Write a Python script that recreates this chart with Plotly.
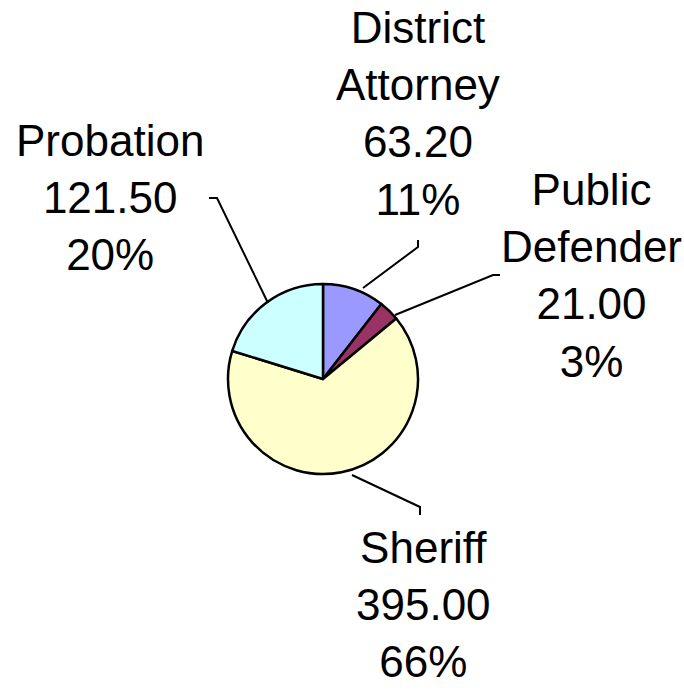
import plotly.graph_objects as go

# data
labels = ["District<br>Attorney", "Public<br>Defender", "Sheriff", "Probation"]
names = ["District Attorney", "Public Defender", "Sheriff", "Probation"]
values = [63.20, 21.00, 395.00, 121.50]
colors = ["#9999FF", "#993366", "#FFFFCC", "#CCFFFF"]

W, H = 684, 690
cx, cy, R = 323, 379, 95

def px(x):
    return x / W

def py(y):
    return 1 - y / H

total = sum(values)

fig = go.Figure(go.Pie(
    labels=names, values=values, sort=False, direction="clockwise", rotation=0,
    marker=dict(colors=colors, line=dict(color="black", width=2.5)),
    textinfo="none", hoverinfo="label+value+percent", showlegend=False,
    domain=dict(x=[px(cx - R), px(cx + R)], y=[py(cy + R), py(cy - R)]),
))

# label anchor positions (pixels) and leader lines
label_pos = [(418, 113), (591, 275), (423, 604), (110, 197)]
leaders = [
    [(363, 288), (418, 247), (418, 240)],
    [(395, 315), (493, 275), (500, 275)],
    [(352, 475), (420, 507), (420, 515)],
    [(268, 303), (217, 198), (209, 198)],
]

for lab, v, (lx, ly) in zip(labels, values, label_pos):
    pct = round(v / total * 100)
    fig.add_annotation(
        x=px(lx), y=py(ly), xref="paper", yref="paper", showarrow=False,
        text=f"{lab}<br>{v:.2f}<br>{pct}%", align="center",
        xanchor="center", yanchor="middle", borderpad=0,
        font=dict(family="Liberation Sans, Arial", size=44, color="black"),
    )

for pts in leaders:
    path = "M " + " L ".join(f"{px(x)},{py(y)}" for x, y in pts)
    fig.add_shape(type="path", path=path, xref="paper", yref="paper",
                  line=dict(color="black", width=2))

fig.update_layout(
    width=W, height=H, margin=dict(l=0, r=0, t=0, b=0),
    paper_bgcolor="white", plot_bgcolor="white",
)

fig.write_html(
    "out.html",
    config={"displayModeBar": False},
    post_script="document.body.style.margin='0';document.body.style.overflow='hidden';",
)
